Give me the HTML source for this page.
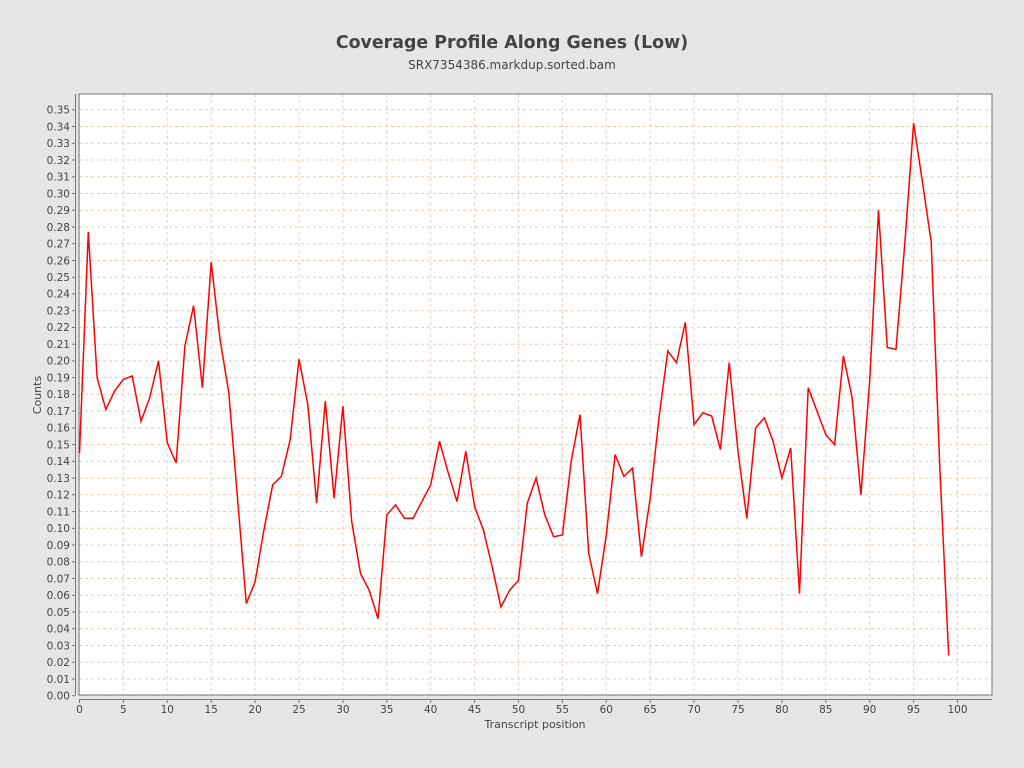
<!DOCTYPE html>
<html><head><meta charset="utf-8"><style>
html,body{margin:0;padding:0;background:#e6e6e6;}
svg{display:block;font-family:"DejaVu Sans","Liberation Sans",sans-serif;}
</style></head><body>
<svg id="s" width="1024" height="768" viewBox="0 0 1024 768" xmlns="http://www.w3.org/2000/svg">
<rect width="1024" height="768" fill="#e6e6e6"/>
<text x="512" y="48" text-anchor="middle" font-size="17.4" font-weight="bold" fill="#444">Coverage Profile Along Genes (Low)</text>
<text x="512" y="69" text-anchor="middle" font-size="12" fill="#444">SRX7354386.markdup.sorted.bam</text>
<rect x="79" y="94" width="913" height="601" fill="#fff"/>
<g id="grid"></g>
<rect x="79" y="94" width="913" height="601" fill="none" stroke="#777" stroke-width="1"/>
<line x1="75.5" y1="94" x2="75.5" y2="695" stroke="#777"/>
<line x1="79" y1="699.5" x2="992" y2="699.5" stroke="#777"/>
<g id="ticks" stroke="#777"></g>
<g font-size="10.5" fill="#444" text-anchor="end">
<text x="70" y="699.5">0.00</text><text x="70" y="682.8">0.01</text><text x="70" y="666">0.02</text><text x="70" y="649.3">0.03</text><text x="70" y="632.5">0.04</text><text x="70" y="615.8">0.05</text><text x="70" y="599.1">0.06</text><text x="70" y="582.3">0.07</text><text x="70" y="565.6">0.08</text><text x="70" y="548.8">0.09</text><text x="70" y="532.1">0.10</text><text x="70" y="515.4">0.11</text><text x="70" y="498.6">0.12</text><text x="70" y="481.9">0.13</text><text x="70" y="465.1">0.14</text><text x="70" y="448.4">0.15</text><text x="70" y="431.7">0.16</text><text x="70" y="414.9">0.17</text><text x="70" y="398.2">0.18</text><text x="70" y="381.4">0.19</text><text x="70" y="364.7">0.20</text><text x="70" y="348">0.21</text><text x="70" y="331.2">0.22</text><text x="70" y="314.5">0.23</text><text x="70" y="297.7">0.24</text><text x="70" y="281">0.25</text><text x="70" y="264.3">0.26</text><text x="70" y="247.5">0.27</text><text x="70" y="230.8">0.28</text><text x="70" y="214">0.29</text><text x="70" y="197.3">0.30</text><text x="70" y="180.6">0.31</text><text x="70" y="163.8">0.32</text><text x="70" y="147.1">0.33</text><text x="70" y="130.3">0.34</text><text x="70" y="113.6">0.35</text>
</g>
<g font-size="10.5" fill="#444" text-anchor="middle">
<text x="79.5" y="713">0</text><text x="123.4" y="713">5</text><text x="167.3" y="713">10</text><text x="211.2" y="713">15</text><text x="255.1" y="713">20</text><text x="299" y="713">25</text><text x="342.9" y="713">30</text><text x="386.8" y="713">35</text><text x="430.7" y="713">40</text><text x="474.6" y="713">45</text><text x="518.5" y="713">50</text><text x="562.4" y="713">55</text><text x="606.3" y="713">60</text><text x="650.2" y="713">65</text><text x="694.1" y="713">70</text><text x="738" y="713">75</text><text x="781.9" y="713">80</text><text x="825.8" y="713">85</text><text x="869.7" y="713">90</text><text x="913.6" y="713">95</text><text x="957.5" y="713">100</text>
</g>
<text x="535" y="728" text-anchor="middle" font-size="11" fill="#444">Transcript position</text>
<text transform="translate(41,395) rotate(-90)" text-anchor="middle" font-size="11" fill="#444">Counts</text>
<polyline id="line" fill="none" stroke="#ff0000" stroke-width="1.5" stroke-linejoin="miter"/>
</svg>
<script>
var X=function(v){return 79.5+v*8.78},Y=function(v){return 695.7-v*1674};
var g=document.getElementById('grid'),t=document.getElementById('ticks'),h='';
for(var i=0;i<=35;i++){var y=Y(i/100).toFixed(1);h+='<line x1="79" x2="992" y1="'+y+'" y2="'+y+'" stroke="#f0c8a8" stroke-dasharray="3,3"/>';}
for(var k=0;k<=100;k+=5){var x=X(k).toFixed(1);h+='<line x1="'+x+'" x2="'+x+'" y1="94" y2="695" stroke="#e8d0c0" stroke-dasharray="3,3"/>';}
g.innerHTML=h;h='';
for(var i=0;i<=35;i++){var y=Y(i/100).toFixed(1);h+='<line x1="72" x2="75.5" y1="'+y+'" y2="'+y+'"/>';}
for(var k=0;k<=100;k+=5){var x=X(k).toFixed(1);h+='<line x1="'+x+'" x2="'+x+'" y1="699.5" y2="703"/>';}
t.innerHTML=h;
var d=[0.145,0.277,0.19,0.171,0.182,0.189,0.191,0.164,0.178,0.200,0.151,0.139,0.209,0.233,0.184,0.259,0.213,0.181,0.118,0.055,0.068,0.099,0.126,0.131,0.153,0.201,0.174,0.115,0.176,0.118,0.173,0.104,0.073,0.063,0.046,0.108,0.114,0.106,0.106,0.116,0.126,0.152,0.133,0.116,0.146,0.113,0.099,0.077,0.053,0.063,0.069,0.115,0.130,0.108,0.095,0.096,0.140,0.168,0.085,0.061,0.096,0.144,0.131,0.136,0.083,0.118,0.166,0.206,0.199,0.223,0.162,0.169,0.167,0.147,0.199,0.146,0.106,0.160,0.166,0.152,0.130,0.148,0.061,0.184,0.170,0.156,0.150,0.203,0.178,0.120,0.188,0.290,0.208,0.207,0.270,0.342,0.307,0.271,0.135,0.024];
document.getElementById('line').setAttribute('points',d.map(function(v,i){return X(i).toFixed(1)+','+Y(v).toFixed(1)}).join(' '));
</script>
</body></html>
